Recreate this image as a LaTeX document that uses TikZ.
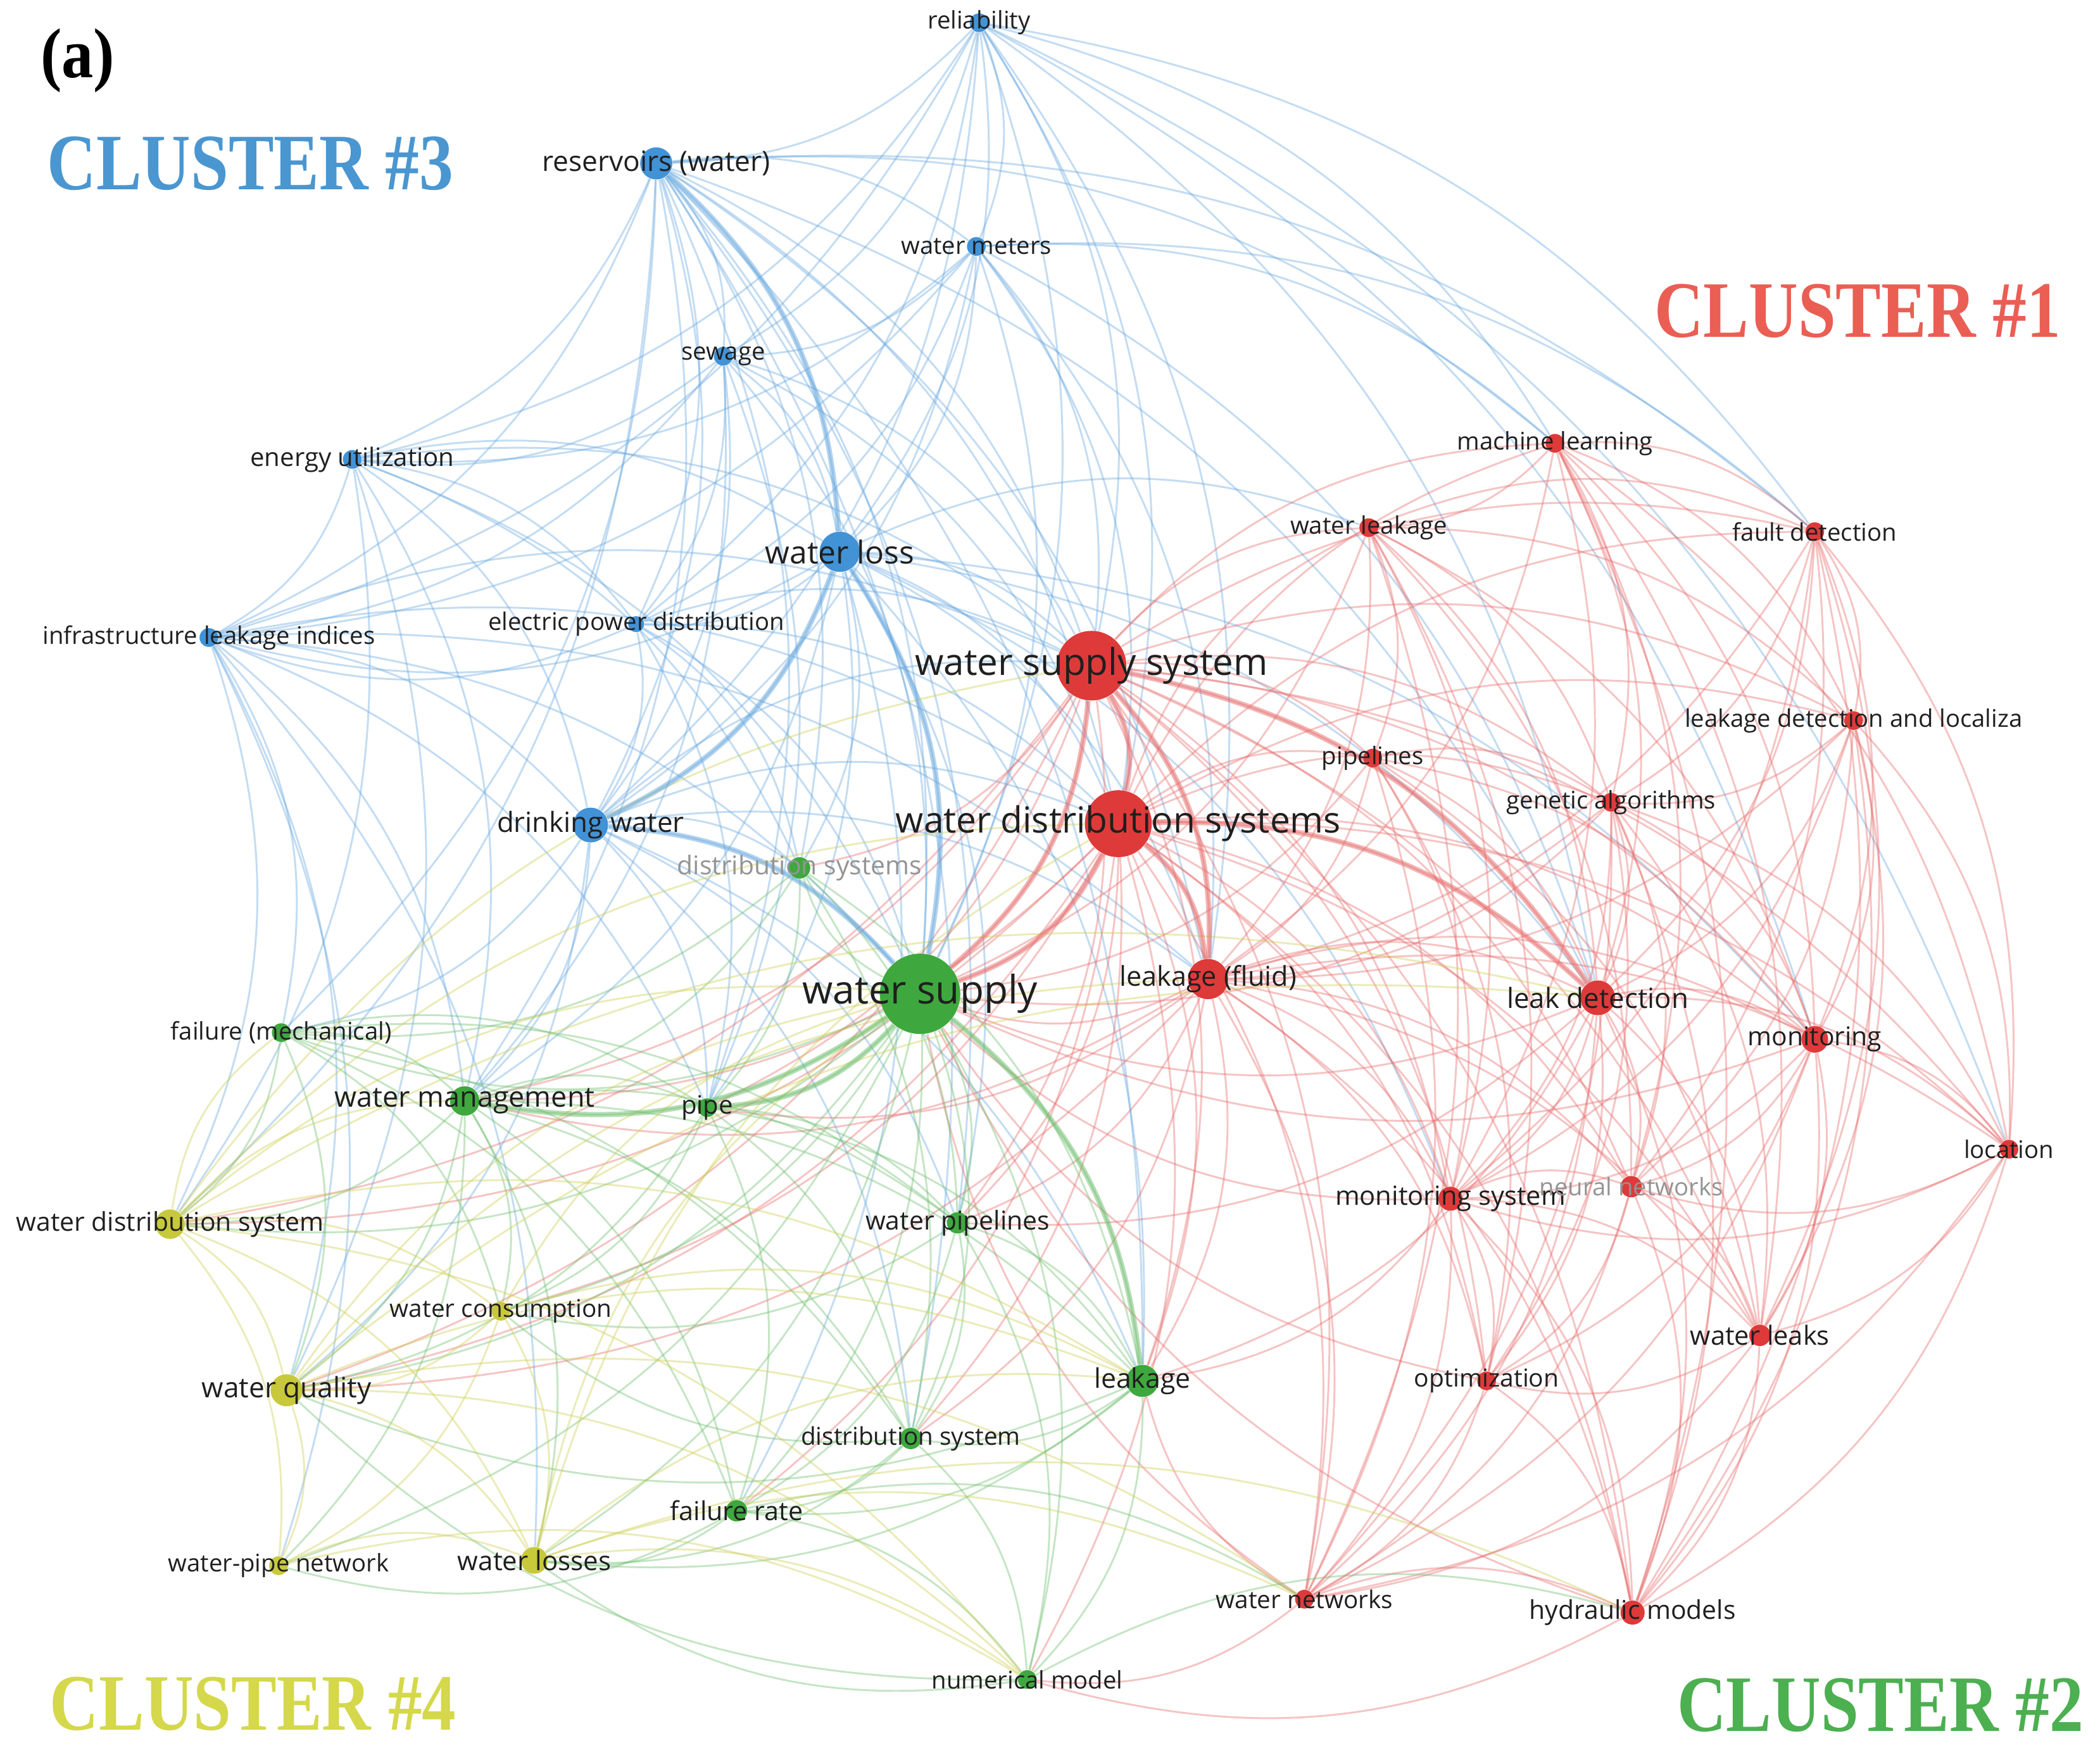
\documentclass[tikz,border=0pt]{standalone}
\usepackage{fontspec}
\setmainfont{Open Sans}
\newfontfamily\clusterfont{Liberation Serif}
\usetikzlibrary{backgrounds}

\definecolor{cred}{RGB}{222,58,58}
\definecolor{cblue}{RGB}{66,146,214}
\definecolor{cgreen}{RGB}{62,168,62}
\definecolor{cyellow}{RGB}{200,200,60}
\definecolor{tred}{RGB}{234,94,84}
\definecolor{tblue}{RGB}{74,150,208}
\definecolor{tgreen}{RGB}{76,175,80}
\definecolor{tyellow}{RGB}{212,216,74}

\tikzset{
  kw/.style={circle, inner sep=0pt, minimum size=#1},
  rn/.style={kw=#1, fill=cred},
  bn/.style={kw=#1, fill=cblue},
  gn/.style={kw=#1, fill=cgreen},
  yn/.style={kw=#1, fill=cyellow},
  lab/.style={font=\fontsize{#1}{#1}\selectfont, text=black!88, inner sep=0pt},
  lab/.default=10.3,
  faint/.style={lab=#1, text=black!42},
  faint/.default=10.3,
  link/.style={line width=0.8pt, opacity=0.4, bend left=22},
  redge/.style={link, draw=cred!75!white},
  bedge/.style={link, draw=cblue!80!white},
  gedge/.style={link, draw=cgreen!75!white},
  yedge/.style={link, draw=cyellow!90!white},
  heavy/.style={line width=2.2pt, opacity=0.5},
  cluster/.style={font=\clusterfont\bfseries\fontsize{34}{34}\selectfont, xscale=0.85, transform shape, inner sep=0pt}
}

\begin{document}
\begin{tikzpicture}[x=0.2mm,y=-0.2mm]
\useasboundingbox (0,0) rectangle (1568,1310);

\node[bn=2.8mm, label={[lab]center:reliability}] (rel) at (731,17) {};
\node[bn=4.8mm, label={[lab=11.9]center:reservoirs (water)}] (res) at (490,122) {};
\node[bn=2.8mm, label={[lab]center:water meters}] (wmet) at (729,184) {};
\node[bn=2.8mm, label={[lab]center:sewage}] (sew) at (540,266) {};
\node[bn=2.8mm, label={[lab=10.8]center:energy utilization}] (eu) at (263,343) {};
\node[bn=6mm, label={[lab=13.4]center:water loss}] (wl) at (627,412) {};
\node[bn=2.4mm, label={[lab]center:electric power distribution}] (epd) at (475,466) {};
\node[bn=2.8mm, label={[lab]center:infrastructure leakage indices}] (ili) at (156,476) {};
\node[bn=5.2mm, label={[lab=11.8]center:drinking water}] (dw) at (441,616) {};

\node[rn=2.8mm, label={[lab]center:machine learning}] (ml) at (1161,331) {};
\node[rn=2.8mm, label={[lab]center:water leakage}] (wlk) at (1022,394) {};
\node[rn=2.8mm, label={[lab]center:fault detection}] (fd) at (1355,397) {};
\node[rn=10.4mm, label={[lab=15.7]center:water supply system}] (wss) at (815,497) {};
\node[rn=2.8mm, label={[lab]center:leakage detection and localiza}] (ldl) at (1384,538) {};
\node[rn=2.8mm, label={[lab]center:pipelines}] (pl) at (1025,566) {};
\node[rn=2.8mm, label={[lab]center:genetic algorithms}] (ga) at (1203,599) {};
\node[rn=10mm, label={[lab=15.3]center:water distribution systems}] (wds) at (835,615) {};
\node[rn=6mm, label={[lab=11.6]center:leakage (fluid)}] (lf) at (902,731) {};
\node[rn=5.2mm, label={[lab=11.8]center:leak detection}] (ld) at (1193,745) {};
\node[rn=4mm, label={[lab=11]center:monitoring}] (mon) at (1355,776) {};
\node[rn=2.8mm, label={[lab]center:location}] (loc) at (1500,858) {};
\node[rn=3.6mm, label={[lab=11.2]center:monitoring system}] (ms) at (1083,895) {};
\node[rn=3.2mm, label={[faint]center:neural networks}] (nn) at (1218,886) {};
\node[rn=3.2mm, label={[lab=11.2]center:water leaks}] (wlks) at (1314,997) {};
\node[rn=2.8mm, label={[lab=10.5]center:optimization}] (opt) at (1110,1031) {};
\node[rn=2.8mm, label={[lab=10.4]center:water networks}] (wn) at (974,1194) {};
\node[rn=3.6mm, label={[lab=11]center:hydraulic models}] (hm) at (1219,1204) {};

\node[gn=3.2mm, label={[faint=11]center:distribution systems}] (dss) at (597,648) {};
\node[gn=12mm, label={[lab=16.7]center:water supply}] (ws) at (687,742) {};
\node[gn=2.8mm, label={[lab]center:failure (mechanical)}] (fm) at (210,771) {};
\node[gn=4.4mm, label={[lab=12.1]center:water management}] (wm) at (347,822) {};
\node[gn=2.8mm, label={[lab=10.8]center:pipe}] (pipe) at (528,827) {};
\node[gn=3.2mm, label={[lab=11]center:water pipelines}] (wp) at (715,913) {};
\node[gn=4.8mm, label={[lab=11.5]center:leakage}] (lk) at (853,1031) {};
\node[gn=3.2mm, label={[lab=10.4]center:distribution system}] (ds) at (680,1074) {};
\node[gn=3.2mm, label={[lab=11.1]center:failure rate}] (fr) at (550,1128) {};
\node[gn=2.8mm, label={[lab]center:numerical model}] (nm) at (767,1254) {};

\node[yn=4.4mm, label={[lab=11]center:water distribution system}] (wdsy) at (127,914) {};
\node[yn=2.8mm, label={[lab=10.4]center:water consumption}] (wc) at (374,979) {};
\node[yn=4.8mm, label={[lab=11.9]center:water quality}] (wq) at (214,1038) {};
\node[yn=2.8mm, label={[lab]center:water-pipe network}] (wpn) at (208,1169) {};
\node[yn=4mm, label={[lab=11.3]center:water losses}] (wlo) at (399,1165) {};

\begin{pgfonlayer}{background}
\foreach \a/\b in {rel/res, rel/wmet, rel/sew, rel/wl, rel/epd, rel/dw, rel/ws, rel/wss, rel/wds, rel/lf, rel/ld, rel/loc, rel/eu, rel/ili, rel/mon, rel/fd, rel/ml,
  res/wmet, res/sew, res/wl, res/epd, res/dw, res/ws, res/wss, res/wds, res/ili, res/eu, res/dss, res/pipe, res/wm, res/lf, res/wp, res/ds, res/lk, res/fm, res/wdsy, res/ld, res/ml, res/fd,
  wmet/sew, wmet/wl, wmet/dw, wmet/ws, wmet/wss, wmet/wds, wmet/lf, wmet/ld, wmet/epd, wmet/ili, wmet/eu, wmet/ml, wmet/fd,
  sew/wl, sew/dw, sew/ws, sew/wss, sew/wds, sew/epd, sew/eu, sew/ili, sew/pipe, sew/wm,
  eu/wl, eu/epd, eu/dw, eu/ws, eu/wss, eu/ili, eu/wm, eu/wq, eu/wdsy, eu/dss,
  wl/epd, wl/dw, wl/ws, wl/wss, wl/wds, wl/ili, wl/lf, wl/ld, wl/wlk, wl/dss, wl/pipe, wl/wm, wl/lk, wl/wp, wl/fr, wl/ms, wl/mon,
  epd/dw, epd/ws, epd/wss, epd/wds, epd/ili, epd/dss, epd/pipe,
  ili/dw, ili/ws, ili/wss, ili/wds, ili/wm, ili/fm, ili/wdsy, ili/wq, ili/lf, ili/pipe, ili/wpn, ili/wlo,
  dw/ws, dw/wss, dw/wds, dw/dss, dw/pipe, dw/wm, dw/lf, dw/lk, dw/wq, dw/ds, dw/wp, dw/fm}
  \draw[bedge] (\a) to (\b);
\foreach \a/\b in {wss/wds, wss/ws, wss/wlk, wss/ml, wss/fd, wss/ldl, wss/pl, wss/ga, wss/lf, wss/ld, wss/mon, wss/loc, wss/ms, wss/nn, wss/wlks, wss/opt, wss/wn, wss/hm, wss/lk, wss/wm, wss/pipe, wss/dss, wss/wp, wss/wq, wss/wdsy,
  wds/ws, wds/wlk, wds/ml, wds/fd, wds/ldl, wds/pl, wds/ga, wds/lf, wds/ld, wds/mon, wds/loc, wds/ms, wds/nn, wds/wlks, wds/opt, wds/wn, wds/hm, wds/lk, wds/wm, wds/ds, wds/wp, wds/wc, wds/wq, wds/fr, wds/nm, wds/wdsy,
  ml/wlk, ml/fd, ml/ldl, ml/ga, ml/ld, ml/mon, ml/ms, ml/nn, ml/loc, ml/wlks, ml/lf, ml/hm,
  wlk/fd, wlk/ldl, wlk/pl, wlk/ga, wlk/lf, wlk/ld, wlk/mon, wlk/ms, wlk/nn, wlk/opt, wlk/ws, wlk/wn,
  fd/ldl, fd/ga, fd/ld, fd/mon, fd/loc, fd/ms, fd/nn, fd/wlks, fd/lf, fd/hm,
  ldl/ga, ldl/ld, ldl/mon, ldl/loc, ldl/ms, ldl/nn, ldl/wlks, ldl/hm, ldl/lf,
  pl/ga, pl/lf, pl/ld, pl/mon, pl/ms, pl/wlks, pl/ws, pl/opt, pl/wn,
  ga/lf, ga/ld, ga/mon, ga/loc, ga/ms, ga/nn, ga/wlks, ga/opt, ga/hm, ga/wn, ga/ws,
  lf/ld, lf/mon, lf/loc, lf/ms, lf/nn, lf/wlks, lf/opt, lf/wn, lf/hm, lf/ws, lf/lk, lf/wp, lf/ds, lf/pipe, lf/wm, lf/wq,
  ld/mon, ld/loc, ld/ms, ld/nn, ld/wlks, ld/opt, ld/wn, ld/hm, ld/ws, ld/lk, ld/wp,
  mon/loc, mon/ms, mon/nn, mon/wlks, mon/opt, mon/hm, mon/wn, mon/ws,
  loc/ms, loc/nn, loc/wlks, loc/hm, loc/wn,
  ms/nn, ms/wlks, ms/opt, ms/wn, ms/hm, ms/ws, ms/lk,
  nn/wlks, nn/opt, nn/hm, nn/wn,
  wlks/opt, wlks/hm, wlks/wn,
  opt/hm, opt/wn, opt/ws,
  wn/hm, wn/ws, wn/lk, wn/nm,
  hm/ws, hm/nm}
  \draw[redge] (\a) to (\b);
\foreach \a/\b in {ws/dss, ws/fm, ws/wm, ws/pipe, ws/wp, ws/lk, ws/ds, ws/fr, ws/nm, ws/wdsy, ws/wc, ws/wq, ws/wpn, ws/wlo,
  dss/wm, dss/pipe, dss/wp, dss/lk, dss/ds, dss/fm,
  fm/wm, fm/pipe, fm/wp, fm/fr, fm/wdsy, fm/wq, fm/wc, fm/ds,
  wm/pipe, wm/wp, wm/lk, wm/ds, wm/fr, wm/wdsy, wm/wc, wm/wq, wm/wlo, wm/wpn,
  pipe/wp, pipe/lk, pipe/ds, pipe/fr, pipe/wc, pipe/wq,
  wp/lk, wp/ds, wp/fr, wp/nm, wp/wc,
  lk/ds, lk/fr, lk/nm, lk/wq, lk/wlo,
  ds/fr, ds/nm, ds/wlo, ds/wc,
  fr/nm, fr/wlo, fr/wpn, fr/wn,
  nm/wlo, nm/wq, nm/hm}
  \draw[gedge] (\a) to (\b);
\foreach \a/\b in {wdsy/wc, wdsy/wq, wdsy/wpn, wdsy/wlo, wdsy/ws, wdsy/wm, wdsy/fm, wdsy/lk, wdsy/wss, wdsy/wds, wdsy/ld, wdsy/nm,
  wc/wq, wc/wpn, wc/wlo, wc/ws, wc/lk,
  wq/wpn, wq/wlo, wq/ws, wq/lk, wq/ld, wq/lf, wq/nm, wq/wn,
  wpn/wlo, wpn/nm,
  wlo/ws, wlo/wds, wlo/lk, wlo/nm, wlo/wn, wlo/hm}
  \draw[yedge] (\a) to (\b);
\foreach \a/\b in {wss/wds, wds/ws, wss/ws, wds/lf, wss/lf, wds/ld, wss/ld}
  \draw[redge, heavy] (\a) to (\b);
\foreach \a/\b in {res/wl, wl/dw, dw/ws, wl/ws}
  \draw[bedge, heavy] (\a) to (\b);
\foreach \a/\b in {ws/lk, ws/wm, ws/pipe}
  \draw[gedge, heavy] (\a) to (\b);
\end{pgfonlayer}

\node[font=\clusterfont\bfseries\fontsize{30}{30}\selectfont, xscale=0.9, transform shape, inner sep=0pt] (tag) at (58,45) {(a)};
\node[cluster, text=tblue] (c3) at (187,122) {CLUSTER \#3};
\node[cluster, text=tred] (c1) at (1387,232) {CLUSTER \#1};
\node[cluster, text=tyellow] (c4) at (189,1272) {CLUSTER \#4};
\node[cluster, text=tgreen] (c2) at (1404,1273) {CLUSTER \#2};
\end{tikzpicture}
\end{document}
